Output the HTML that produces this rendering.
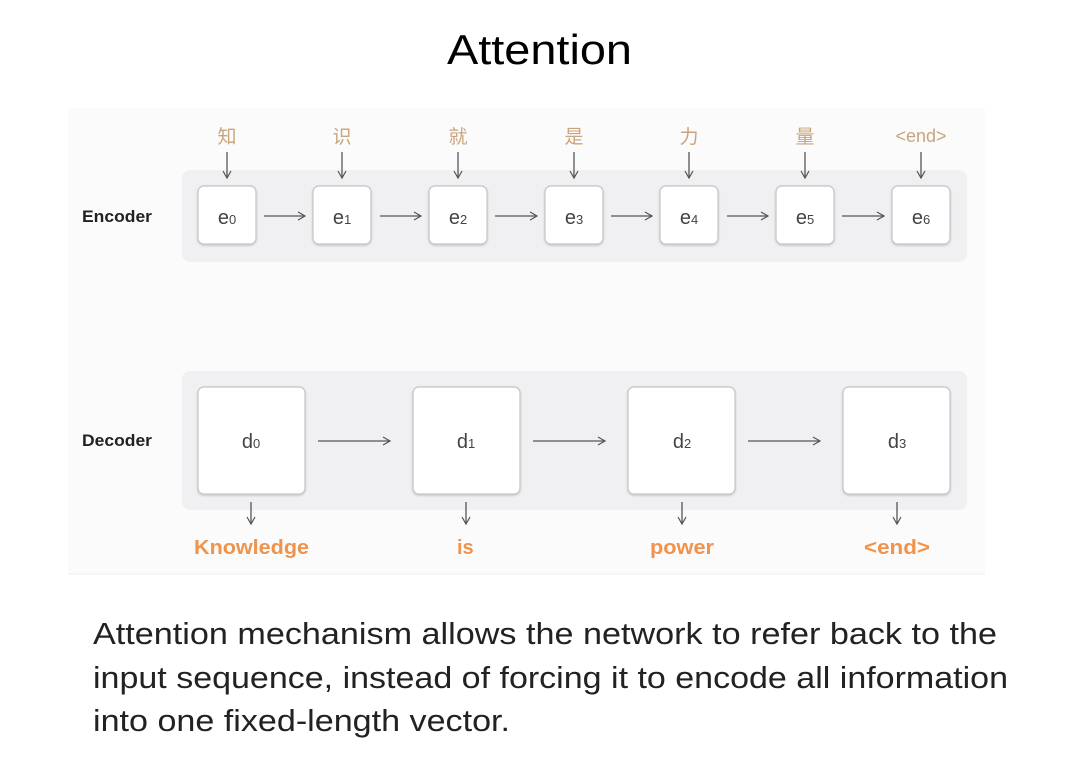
<!DOCTYPE html>
<html><head><meta charset="utf-8"><style>
body{margin:0;background:#fff;width:1080px;height:755px;overflow:hidden;font-family:"Liberation Sans","Noto Sans CJK SC",sans-serif}
</style></head><body>
<svg width="1080" height="755" xmlns="http://www.w3.org/2000/svg" font-family="Liberation Sans, Noto Sans CJK SC, sans-serif">
<defs>
<marker id="a" markerWidth="10" markerHeight="10" refX="8" refY="5" orient="auto" markerUnits="userSpaceOnUse"><path d="M1,1 L8,5 L1,9" fill="none" stroke="#555" stroke-width="1.2"/></marker>
<filter id="s" x="-10%" y="-10%" width="120%" height="130%"><feDropShadow dx="0" dy="1" stdDeviation="1" flood-color="#000" flood-opacity="0.2"/></filter>
</defs>
<text x="447" y="64" font-size="42" textLength="185" lengthAdjust="spacingAndGlyphs" fill="#000">Attention</text>
<rect x="68" y="108" width="917" height="466" fill="#fbfbfc"/>
<line x1="68" y1="574" x2="985" y2="574" stroke="#ececec"/>
<rect x="182" y="170" width="785" height="92" rx="8" fill="#f0f0f3"/>
<rect x="182" y="371" width="785" height="139" rx="8" fill="#f0f0f3"/>
<text x="82" y="222" font-size="17" font-weight="bold" fill="#222" textLength="70" lengthAdjust="spacingAndGlyphs">Encoder</text>
<text x="82" y="446" font-size="17" font-weight="bold" fill="#222" textLength="70" lengthAdjust="spacingAndGlyphs">Decoder</text>
<g font-size="19" fill="#c9a57c" text-anchor="middle">
<text x="227" y="143">知</text><text x="342" y="143">识</text><text x="458" y="143">就</text><text x="574" y="143">是</text><text x="689" y="143">力</text><text x="805" y="143">量</text><text x="921" y="142" font-size="18">&lt;end&gt;</text>
</g>
<g stroke="#555" stroke-width="1.3" marker-end="url(#a)">
<line x1="227" y1="152" x2="227" y2="178"/><line x1="342" y1="152" x2="342" y2="178"/><line x1="458" y1="152" x2="458" y2="178"/><line x1="574" y1="152" x2="574" y2="178"/><line x1="689" y1="152" x2="689" y2="178"/><line x1="805" y1="152" x2="805" y2="178"/><line x1="921" y1="152" x2="921" y2="178"/>
<line x1="264" y1="216" x2="305" y2="216"/><line x1="380" y1="216" x2="421" y2="216"/><line x1="495" y1="216" x2="537" y2="216"/><line x1="611" y1="216" x2="652" y2="216"/><line x1="727" y1="216" x2="768" y2="216"/><line x1="842" y1="216" x2="884" y2="216"/>
<line x1="318" y1="441" x2="390" y2="441"/><line x1="533" y1="441" x2="605" y2="441"/><line x1="748" y1="441" x2="820" y2="441"/>
<line x1="251" y1="502" x2="251" y2="524"/><line x1="466" y1="502" x2="466" y2="524"/><line x1="682" y1="502" x2="682" y2="524"/><line x1="897" y1="502" x2="897" y2="524"/>
</g>
<g fill="#fff" stroke="#c4c4c4" stroke-width="1.2" filter="url(#s)">
<rect x="198" y="186" width="58" height="58" rx="6"/><rect x="313" y="186" width="58" height="58" rx="6"/><rect x="429" y="186" width="58" height="58" rx="6"/><rect x="545" y="186" width="58" height="58" rx="6"/><rect x="660" y="186" width="58" height="58" rx="6"/><rect x="776" y="186" width="58" height="58" rx="6"/><rect x="892" y="186" width="58" height="58" rx="6"/>
<rect x="198" y="387" width="107" height="107" rx="6"/><rect x="413" y="387" width="107" height="107" rx="6"/><rect x="628" y="387" width="107" height="107" rx="6"/><rect x="843" y="387" width="107" height="107" rx="6"/>
</g>
<g font-size="20" fill="#444" text-anchor="middle">
<text x="227" y="224">e<tspan font-size="13">0</tspan></text><text x="342" y="224">e<tspan font-size="13">1</tspan></text><text x="458" y="224">e<tspan font-size="13">2</tspan></text><text x="574" y="224">e<tspan font-size="13">3</tspan></text><text x="689" y="224">e<tspan font-size="13">4</tspan></text><text x="805" y="224">e<tspan font-size="13">5</tspan></text><text x="921" y="224">e<tspan font-size="13">6</tspan></text>
<text x="251" y="448">d<tspan font-size="13">0</tspan></text><text x="466" y="448">d<tspan font-size="13">1</tspan></text><text x="682" y="448">d<tspan font-size="13">2</tspan></text><text x="897" y="448">d<tspan font-size="13">3</tspan></text>
</g>
<g font-size="20" font-weight="bold" fill="#f0934d">
<text x="194" y="554" textLength="115" lengthAdjust="spacingAndGlyphs">Knowledge</text><text x="457" y="554">is</text><text x="650" y="554" textLength="64" lengthAdjust="spacingAndGlyphs">power</text><text x="864" y="554" textLength="66" lengthAdjust="spacingAndGlyphs">&lt;end&gt;</text>
</g>
<g font-size="31" fill="#222" lengthAdjust="spacingAndGlyphs">
<text x="93" y="644" textLength="904" lengthAdjust="spacingAndGlyphs">Attention mechanism allows the network to refer back to the</text>
<text x="93" y="688" textLength="915" lengthAdjust="spacingAndGlyphs">input sequence, instead of forcing it to encode all information</text>
<text x="93" y="731" textLength="417" lengthAdjust="spacingAndGlyphs">into one fixed-length vector.</text>
</g>
</svg>
</body></html>
